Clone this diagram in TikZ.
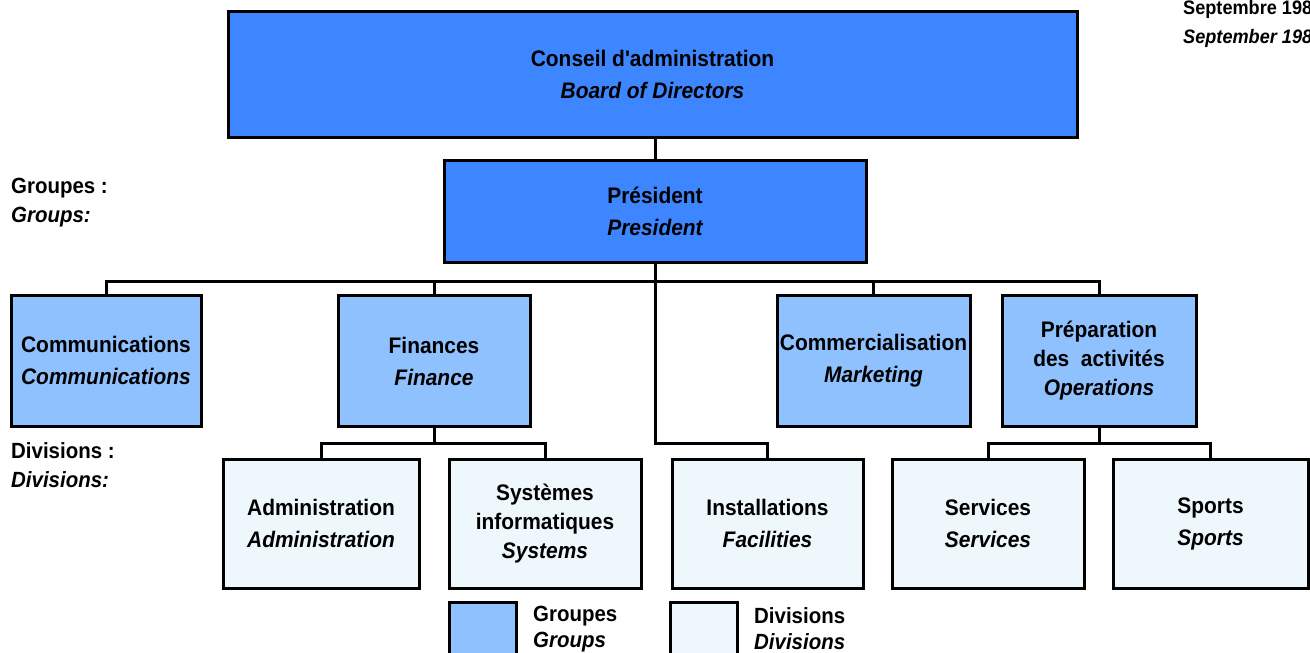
\documentclass[tikz,border=0pt]{standalone}
\usepackage{fontspec}
\setmainfont[FakeStretch=0.93, Ligatures=TeXOff]{Liberation Sans}
\begin{document}
\begin{tikzpicture}[x=1pt,y=-1pt,
  txt/.style={font=\fontsize{22.5}{32}\selectfont\bfseries, align=center, inner sep=0pt},
  threeline/.style={font=\fontsize{22.5}{29}\selectfont\bfseries},
  boxbase/.style={txt, draw=black, line width=3pt, rectangle},
  topbox/.style={boxbase, fill=topblue},
  groupbox/.style={boxbase, fill=groupblue, minimum width=192pt, minimum height=131pt},
  divbox/.style={boxbase, fill=divwhite, minimum width=193pt, minimum height=129pt},
  link/.style={draw=black, line width=3pt},
  sidelabel/.style={font=\fontsize{22}{29}\selectfont\bfseries, align=left, inner sep=0pt, anchor=west},
]
\definecolor{topblue}{HTML}{3D86FF}
\definecolor{groupblue}{HTML}{8FC1FF}
\definecolor{divwhite}{HTML}{EEF8FC}
\useasboundingbox (0,0) rectangle (1310,653);
\fill[white] (0,0) rectangle (1310,653);

% top level
\node[topbox, minimum width=849pt, minimum height=126pt] (board) at (652.5,74)
  {Conseil d'administration\\ \itshape Board of Directors};
\node[topbox, minimum width=422pt, minimum height=102pt] (pres) at (655,211)
  {Président\\ \itshape President};

% groups
\node[groupbox, minimum width=190pt] (comm) at (106,360.5)
  {Communications\\ \itshape Communications};
\node[groupbox] (fin) at (434,361) {Finances\\ \itshape Finance};
\node[groupbox, minimum width=193pt] (mkt) at (873.5,361)
  {Commercialisation\\ \itshape Marketing};
\node[groupbox, threeline, minimum width=194pt] (prep) at (1099,360.5)
  {Préparation\\ des~ activités\\ \itshape Operations};

% divisions
\node[divbox, minimum width=196pt] (adm) at (321,523.5)
  {Administration\\ \itshape Administration};
\node[divbox, threeline, minimum width=192pt] (sys) at (545,523.5)
  {Systèmes\\ informatiques\\ \itshape Systems};
\node[divbox, minimum width=191pt] (inst) at (767.5,523.5)
  {Installations\\ \itshape Facilities};
\node[divbox, minimum width=192pt] (srv) at (988,523.5)
  {Services\\ \itshape Services};
\node[divbox, minimum width=195pt] (spt) at (1210.5,523.5)
  {Sports\\ \itshape Sports};

% junction points
\coordinate (bus) at (655,281);
\coordinate (centerbus) at (655,443);
\coordinate (finbus) at (434,443);
\coordinate (prepbus) at (1099,443);

% connectors
\draw[link] (pres.north) -- (pres.north |- board.south);
\draw[link] (comm.north) |- (bus) -| (prep.north);
\draw[link] (fin.north) |- (bus);
\draw[link] (mkt.north) |- (bus);
\draw[link] (pres.south) -- (centerbus) -| (inst.north);
\draw[link] (fin.south) -- (finbus);
\draw[link] (adm.north) |- (finbus) -| (sys.north);
\draw[link] (prep.south) -- (prepbus);
\draw[link] (srv.north) |- (prepbus) -| (spt.north);

% row labels
\node[sidelabel] (grplabel) at (11,203) {Groupes :\\ \itshape Groups:};
\node[sidelabel] (divlabel) at (11,465) {Divisions :\\ \itshape Divisions:};

% date
\node[font=\fontsize{19.5}{29}\selectfont\bfseries, align=left, inner sep=0pt, anchor=west]
  (date) at (1183,24) {Septembre 198\\ \itshape September 198};

% legend
\node[boxbase, fill=groupblue, minimum width=67pt, minimum height=52pt] (keygrp) at (482.5,628) {};
\node[boxbase, fill=divwhite, minimum width=67pt, minimum height=52pt] (keydiv) at (703.5,628) {};
\node[sidelabel, font=\fontsize{22}{26}\selectfont\bfseries] (keygrptext) at (533,629) {Groupes\\ \itshape Groups};
\node[sidelabel, font=\fontsize{22}{26}\selectfont\bfseries] (keydivtext) at (754,629) {Divisions\\ \itshape Divisions};
\end{tikzpicture}
\end{document}
